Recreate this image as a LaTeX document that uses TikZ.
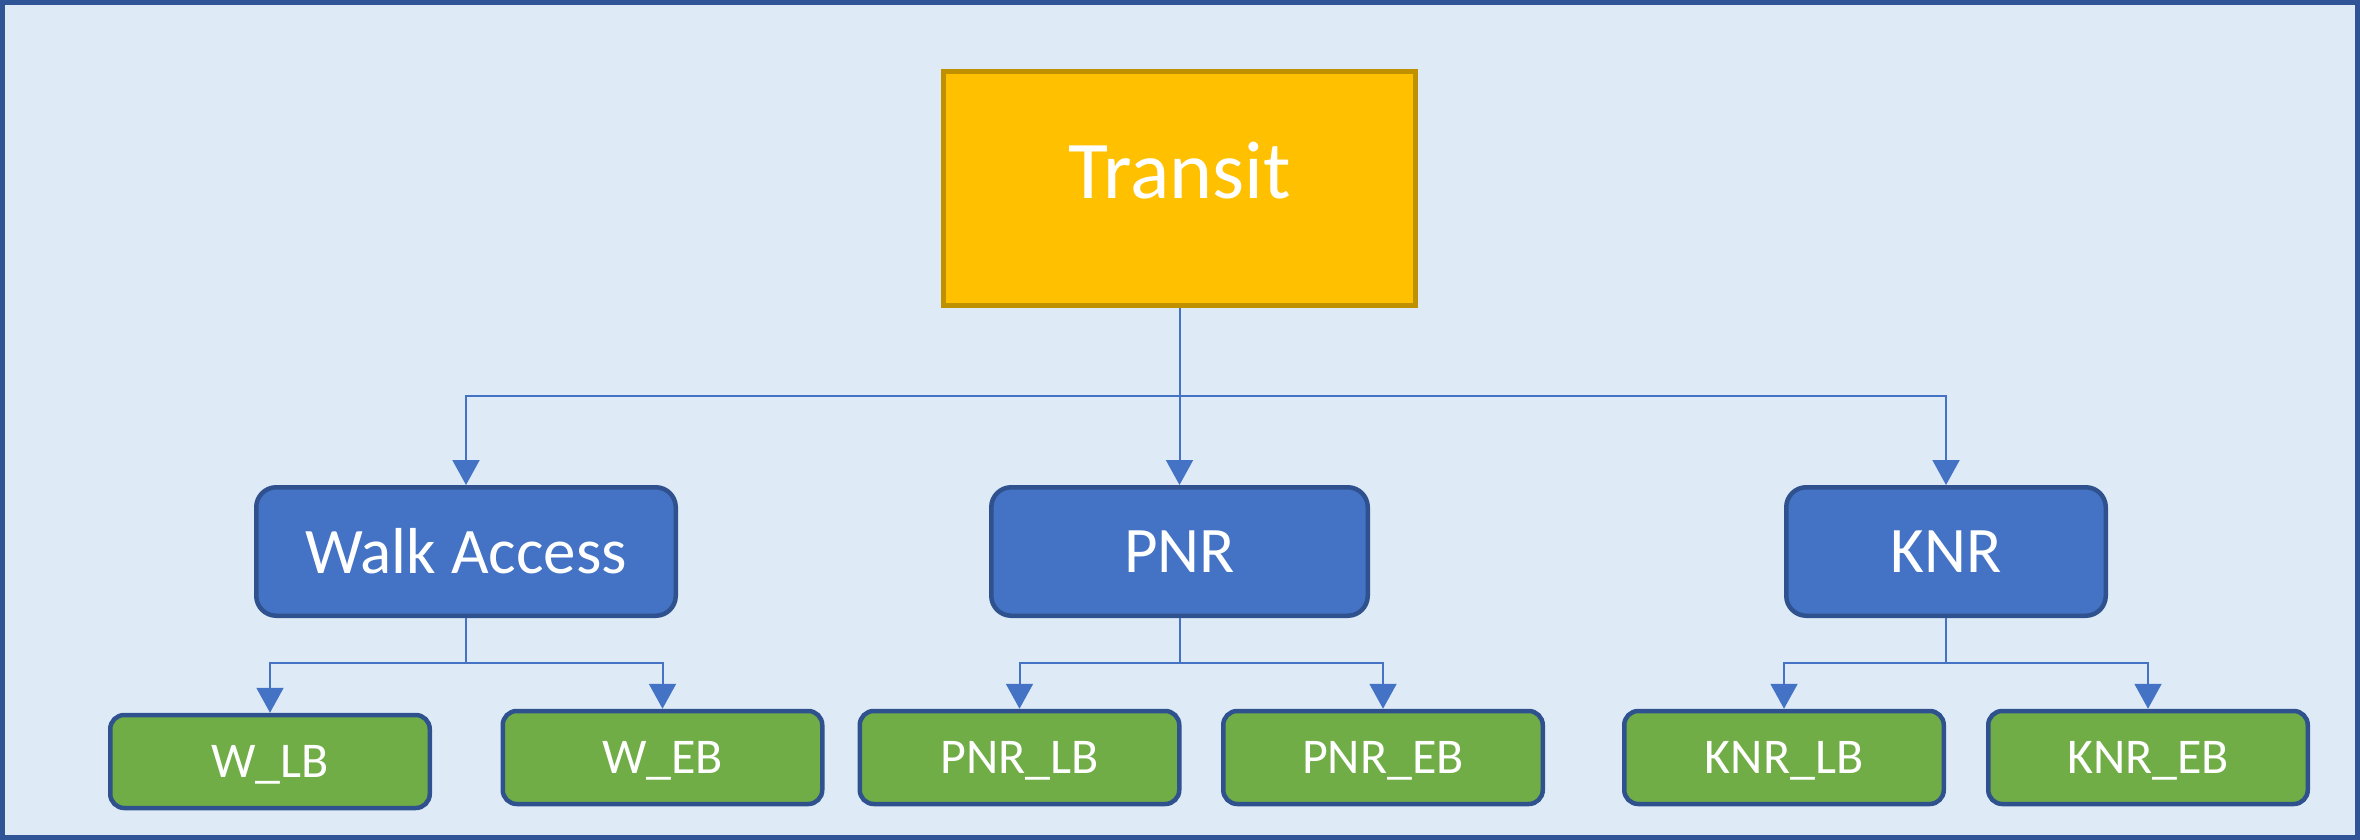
\documentclass[tikz,border=0pt]{standalone}
\usepackage{fontspec}
\setmainfont{Carlito}
\usetikzlibrary{arrows.meta}
\definecolor{framefill}{HTML}{DEEBF7}
\definecolor{frameline}{HTML}{2F5597}
\definecolor{nodeline}{HTML}{2F528F}
\definecolor{bluefill}{HTML}{4472C4}
\definecolor{greenfill}{HTML}{70AD47}
\definecolor{goldfill}{HTML}{FFC000}
\definecolor{goldline}{HTML}{BF9000}
\definecolor{connline}{HTML}{4472C4}
\tikzset{
  topbox/.style={draw=goldline, fill=goldfill, line width=2.5pt, minimum width=236pt, minimum height=117pt, inner sep=0pt},
  toptext/.style={text=white, font=\fontsize{41}{49}\selectfont, inner sep=0pt},
  midbox/.style={draw=nodeline, fill=bluefill, line width=2.25pt, rounded corners=10pt, minimum height=64.25pt, inner sep=0pt, text=white, font=\fontsize{32.5}{39}\selectfont},
  leafbox/.style={draw=nodeline, fill=greenfill, line width=2.25pt, rounded corners=7pt, minimum width=159.75pt, minimum height=46.5pt, inner sep=0pt, text depth=0pt, text=white, font=\fontsize{25}{30}\selectfont},
  arr/.style={draw=connline, line width=1pt, -{Triangle[width=13.5pt,length=12.5pt]}}
}
\begin{document}
\begin{tikzpicture}[x=0.5pt,y=-0.5pt]
\useasboundingbox (0,0) rectangle (2360,840);
\draw[draw=frameline, fill=framefill, line width=2.5pt] (2.5,2.5) rectangle (2357.5,837.5);
% top
\node[topbox] (transit) at (1179.5,188.5) {};
\node[toptext] (transitlabel) at ([yshift=9pt]transit.center) {Transit};
% middle
\node[midbox, minimum width=209.75pt] (walk) at (466,551.5) {Walk Access};
\node[midbox, minimum width=188.25pt] (pnr) at (1179.5,551.5) {PNR};
\node[midbox, minimum width=159.75pt] (knr) at (1946,551.5) {KNR};
% leaves
\node[leafbox] (wlb) at (270,761.5) {W\_LB};
\node[leafbox] (web) at (662.5,757.5) {W\_EB};
\node[leafbox] (pnrlb) at (1019.5,757.5) {PNR\_LB};
\node[leafbox] (pnreb) at (1383,757.5) {PNR\_EB};
\node[leafbox] (knrlb) at (1784,757.5) {KNR\_LB};
\node[leafbox] (knreb) at (2148,757.5) {KNR\_EB};
% bars
\coordinate (topbar) at (1179.5,396);
\coordinate (walkbar) at (466,663);
\coordinate (pnrbar) at (1179.5,663);
\coordinate (knrbar) at (1946,663);
% connectors
\draw[arr] (transit.south) -- (topbar) -| (walk.north);
\draw[arr] (transit.south) -- (pnr.north);
\draw[arr] (transit.south) -- (topbar) -| (knr.north);
\draw[arr] (walk.south) -- (walkbar) -| (wlb.north);
\draw[arr] (walk.south) -- (walkbar) -| (web.north);
\draw[arr] (pnr.south) -- (pnrbar) -| (pnrlb.north);
\draw[arr] (pnr.south) -- (pnrbar) -| (pnreb.north);
\draw[arr] (knr.south) -- (knrbar) -| (knrlb.north);
\draw[arr] (knr.south) -- (knrbar) -| (knreb.north);
\end{tikzpicture}
\end{document}
